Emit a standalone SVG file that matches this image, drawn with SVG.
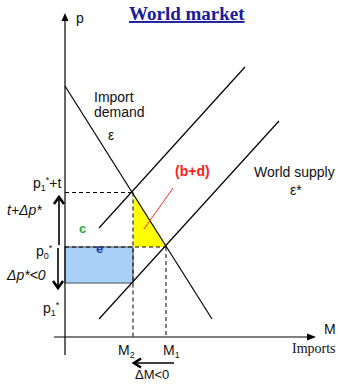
<svg xmlns="http://www.w3.org/2000/svg" width="339" height="384" viewBox="0 0 339 384">
<style>
text{font-family:"Liberation Sans",Arial,sans-serif;font-size:14px;fill:#111}
.serif{font-family:"Liberation Serif","Times New Roman",serif}
.it{font-style:italic}
.ln{stroke:#000;stroke-width:1.2;fill:none}
.dash{stroke:#000;stroke-width:1;stroke-dasharray:4 3;fill:none}
.arr{stroke:#000;stroke-width:1.6;fill:none}
.head{stroke:#000;stroke-width:2.6;fill:none;stroke-linecap:butt;stroke-linejoin:miter}
.sub{font-size:9px}
</style>
<rect width="339" height="384" fill="#fff"/>
<g id="title"><text class="serif" x="129" y="20" style="font-size:19px;font-weight:bold;fill:#1a1a9c;text-decoration:underline">World market</text></g>
<g id="areas">
<rect id="area-e" x="65" y="247" width="68" height="36" fill="#a9d1f8" stroke="#5a6470" stroke-width="1.2"/>
<polygon id="area-bd" points="133,192.5 133,247 166,247" fill="#ffff00"/>
</g>
<g id="axes">
<line class="ln" x1="65" y1="355" x2="65" y2="20"/>
<polygon points="65,13 61.5,21 68.5,21" fill="#000"/>
<line class="ln" x1="54" y1="337" x2="308" y2="337"/>
<polygon points="316,337 307,333.5 307,340.5" fill="#000"/>
<text x="76" y="23">p</text>
<text x="324" y="334">M</text>
<text class="serif" x="292" y="353">Imports</text>
</g>
<g id="connectors">
<line id="demand" class="ln" x1="65" y1="86" x2="212" y2="319"/>
<line id="supply1" class="ln" x1="99" y1="228" x2="245" y2="67"/>
<line id="supply2" class="ln" x1="99" y1="319" x2="279" y2="121"/>
<line class="dash" x1="65" y1="192.5" x2="133" y2="192.5"/>
<line class="dash" x1="133" y1="192.5" x2="133" y2="337"/>
<line class="dash" x1="65" y1="247" x2="166" y2="247"/>
<line class="dash" x1="166" y1="247" x2="166" y2="337"/>
<line stroke="#ff2a2a" stroke-width="1" x1="173" y1="188" x2="144" y2="229"/>
<line class="arr" x1="59" y1="245" x2="59" y2="198"/>
<polyline class="head" points="54,204 59,197 64,204"/>
<line class="arr" x1="58" y1="248" x2="58" y2="287"/>
<polyline class="head" points="53,281 58,288 63,281"/>
<line class="arr" x1="174" y1="363" x2="135" y2="363"/>
<polyline class="head" points="141,358.5 134,363 141,367.5"/>
</g>
<g id="labels">
<text x="94" y="102">Import</text>
<text x="94" y="117">demand</text>
<text x="108" y="140">ε</text>
<text x="254" y="177">World supply</text>
<text x="290" y="195">ε*</text>
<text x="175" y="176" style="font-weight:bold;fill:#ff2020">(b+d)</text>
<text x="33" y="188">p<tspan class="sub" dy="3">1</tspan><tspan class="sub" dy="-8">*</tspan><tspan dy="5">+t</tspan></text>
<text class="it" x="7" y="215">t+Δp*</text>
<text x="79" y="233" style="font-weight:bold;font-size:13px;fill:#22aa44">c</text>
<text x="36" y="256">p<tspan class="sub" dy="3">0</tspan><tspan class="sub" dy="-8">*</tspan></text>
<text x="96" y="253" style="font-weight:bold;font-size:13px;fill:#1a3aa8">e</text>
<text class="it" x="7" y="280">Δp*&lt;0</text>
<text x="43" y="313">p<tspan class="sub" dy="3">1</tspan><tspan class="sub" dy="-8">*</tspan></text>
<text x="118" y="355">M<tspan class="sub" dy="3">2</tspan></text>
<text x="163" y="355">M<tspan class="sub" dy="3">1</tspan></text>
<text x="135" y="379" style="font-size:13px">ΔM&lt;0</text>
</g>
</svg>
